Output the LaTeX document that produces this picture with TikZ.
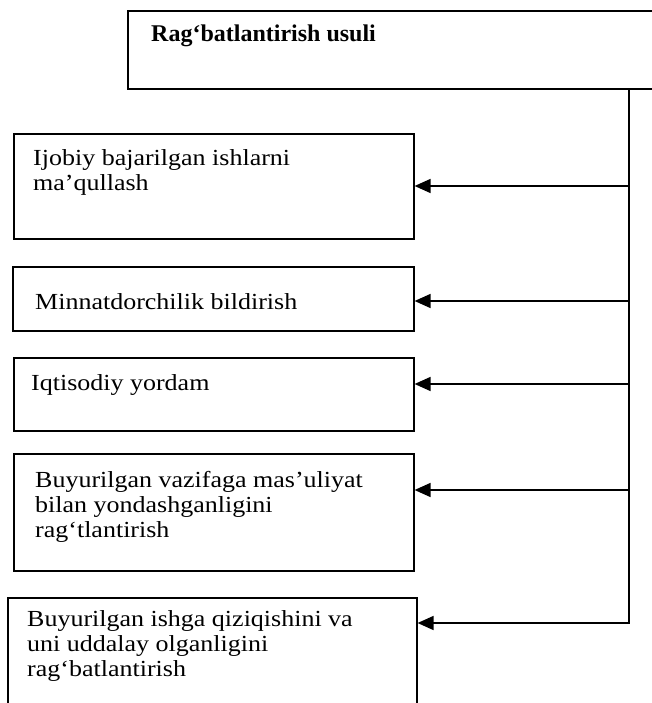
\documentclass[tikz,border=0pt]{standalone}
\usepackage{fontspec}
\setmainfont{Liberation Serif}[FakeStretch=1.13]
\newfontfamily\sarlavhafont{Liberation Serif}
\usetikzlibrary{arrows.meta}

\tikzset{
  blok/.style={draw, line width=1.6pt, rectangle, inner sep=0pt, anchor=north west},
  matn/.style={inner sep=0pt, anchor=base west, align=left, font=\fontsize{23}{25}\selectfont},
  uchi/.style={-{Triangle[length=16pt,width=14pt]}, line width=1.6pt}
}

\begin{document}
\begin{tikzpicture}[x=1pt,y=-1pt]
		\useasboundingbox (0,0) rectangle (651,703);
		%Sarlavha
		\node [blok, minimum width=540pt, minimum height=78pt] (bosh) at (127,10) {};
		\node [matn, font=\sarlavhafont\fontsize{24}{24}\selectfont\bfseries] (sarlavha) at (151,42) {Rag‘batlantirish usuli};
		%Bloklar
		\node [blok, minimum width=400pt, minimum height=105pt] (b1) at (13,133) {};
		\node [blok, minimum width=401pt, minimum height=64pt] (b2) at (12,266) {};
		\node [blok, minimum width=400pt, minimum height=73pt] (b3) at (13,357) {};
		\node [blok, minimum width=400pt, minimum height=117pt] (b4) at (13,453) {};
		\node [blok, minimum width=409pt, minimum height=130pt] (b5) at (7,597) {};
		%Matnlar (oxirgi qator tayanch chizig'i)
		\node [matn] (m1) at (33,191) {Ijobiy bajarilgan ishlarni\\ma’qullash};
		\node [matn] (m2) at (35,309) {Minnatdorchilik bildirish};
		\node [matn] (m3) at (31,390) {Iqtisodiy yordam};
		\node [matn] (m4) at (35,537) {Buyurilgan vazifaga mas’uliyat\\bilan yondashganligini\\rag‘tlantirish};
		\node [matn] (m5) at (27,676) {Buyurilgan ishga qiziqishini va\\uni uddalay olganligini\\rag‘batlantirish};
		%Tarmoq
		\coordinate (t1) at (629,186);
		\coordinate (t2) at (629,301);
		\coordinate (t3) at (629,384);
		\coordinate (t4) at (629,490);
		\coordinate (t5) at (629,623);
		%Strelkalar
		\draw [uchi] (bosh.south -| t5) -- (t5) -- (t5 -| b5.east);
		\draw [uchi] (t1) -- (t1 -| b1.east);
		\draw [uchi] (t2) -- (t2 -| b2.east);
		\draw [uchi] (t3) -- (t3 -| b3.east);
		\draw [uchi] (t4) -- (t4 -| b4.east);
	\end{tikzpicture}
\end{document}
